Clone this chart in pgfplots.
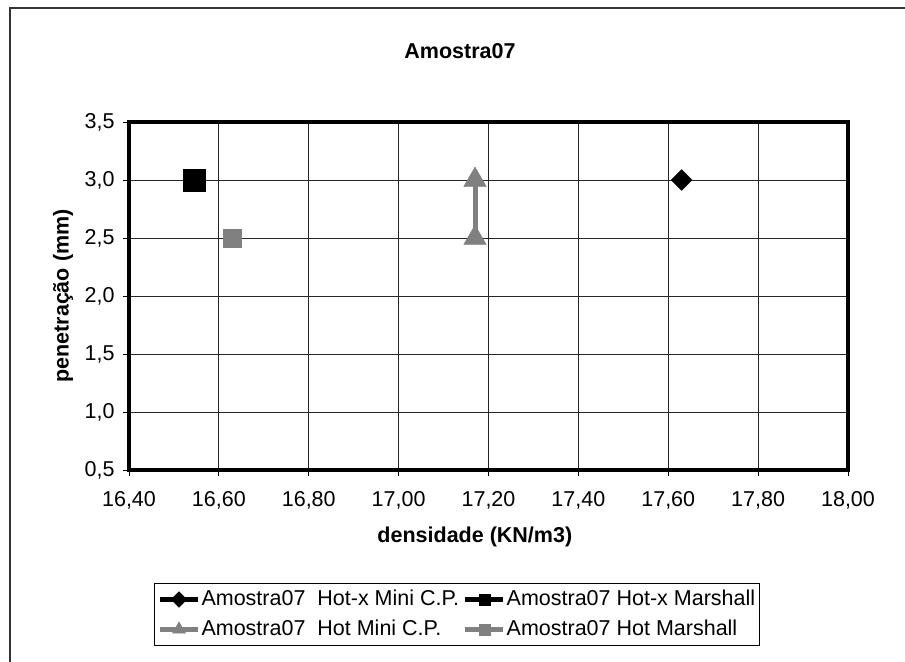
\documentclass[border=0pt]{standalone}
\usepackage{fontspec}
\setmainfont{Liberation Sans}
\usepackage{pgfplots}
\pgfplotsset{compat=1.18}
\definecolor{mgray}{RGB}{128,128,128}
\begin{document}
\fontsize{21.5bp}{25bp}\selectfont
\begin{tikzpicture}
\path[use as bounding box] (-129bp,-192bp) rectangle (776bp,470bp);
\draw[line width=1.2bp, black!80] (-119bp,-192bp) -- (-119bp,462bp) -- (776bp,462bp);
\begin{axis}[
  at={(0,0)}, anchor=south west,
  scale only axis, width=719bp, height=348bp,
  xmin=16.4, xmax=18, ymin=0.5, ymax=3.5,
  xtick={16.4,16.6,16.8,17.0,17.2,17.4,17.6,17.8,18.0},
  ytick={0.5,1.0,1.5,2.0,2.5,3.0,3.5},
  grid=major, grid style={line width=0.9bp, black!85},
  axis line style={line width=3.5bp},
  tick style={line width=0.9bp, black}, tick align=outside, major tick length=6bp,
  xtick pos=left, ytick pos=left,
  /pgf/number format/assume math mode=true,
  xticklabel style={/pgf/number format/.cd, fixed, fixed zerofill, precision=2, use comma, /tikz/.cd, yshift=-8bp},
  yticklabel style={/pgf/number format/.cd, fixed, fixed zerofill, precision=1, use comma, /tikz/.cd, xshift=-1bp},
  title={Amostra07}, title style={font=\bfseries, at={(axis description cs:0.4604,1.187)}, anchor=center},
  xlabel={densidade (KN/m3)}, xlabel style={font=\bfseries, at={(axis description cs:0.481,-0.1925)}, anchor=center},
  ylabel={penetração (mm)}, ylabel style={font=\bfseries, at={(axis description cs:-0.0918,0.5)}, anchor=center, rotate=0},
  legend columns=2,
  legend cell align=left,
  legend style={at={(axis description cs:0.456,-0.415)}, anchor=center, draw=black, line width=1bp, inner xsep=3bp, inner ysep=5bp,
    row sep=7bp,
    /tikz/every even column/.append style={column sep=3bp}, nodes={inner xsep=1bp, inner ysep=2bp}},
  legend image code/.code={\draw[mark repeat=2, mark phase=2, mark size=5.5bp] plot coordinates {(0bp,0bp)(19bp,0bp)(38bp,0bp)};},
]
\addplot[black, line width=4.5bp, mark=square*, mark size=7.4bp, mark options={solid, rotate=45, line width=0.4bp, fill=black}] coordinates {(17.63,3.0)};
\addlegendentry{Amostra07\ \ Hot-x Mini C.P.}
\addplot[black, line width=4.5bp, mark=square*, mark size=11.3bp, mark options={solid, line width=0.4bp, fill=black}] coordinates {(16.545,3.0)};
\addlegendentry{Amostra07 Hot-x Marshall}
\addplot[mgray, line width=5bp, mark=triangle*, mark size=13bp, mark options={solid, line width=0.4bp, fill=mgray}, legend image code/.code={\draw[mark repeat=2, mark phase=2, mark size=7.5bp] plot coordinates {(0bp,0bp)(19bp,0bp)(38bp,0bp)};}] coordinates {(17.17,2.5)(17.17,3.0)};
\addlegendentry{Amostra07\ \ Hot Mini C.P.}
\addplot[mgray, line width=4.5bp, mark=square*, mark size=9bp, mark options={solid, line width=0.4bp, fill=mgray}] coordinates {(16.63,2.5)};
\addlegendentry{Amostra07 Hot Marshall}
\end{axis}
\end{tikzpicture}
\end{document}
